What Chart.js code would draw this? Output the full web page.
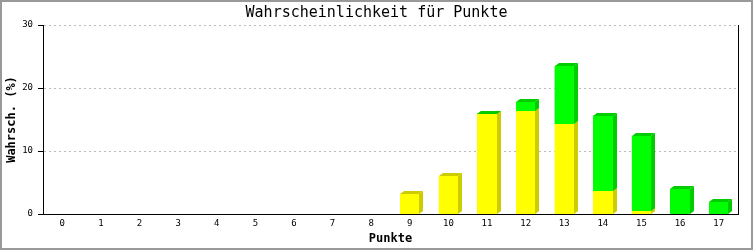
<!DOCTYPE html>
<html>
<head>
<meta charset="utf-8">
<script src="https://cdn.jsdelivr.net/npm/chart.js@4"></script>
<style>
  html, body { margin: 0; padding: 0; background: #fff; }
  canvas { display: block; }
</style>
</head>
<body>
<canvas id="chart" width="753" height="250"></canvas>
<script>
const categories = ['0', '1', '2', '3', '4', '5', '6', '7', '8', '9', '10', '11', '12', '13', '14', '15', '16', '17'];
const yellowValues = [0, 0, 0, 0, 0, 0, 0, 0, 0, 3.2, 6.0, 15.8, 16.3, 14.3, 3.7, 0.5, 0, 0];
const greenValues = [0, 0, 0, 0, 0, 0, 0, 0, 0, 0, 0, 0.15, 1.4, 9.2, 11.9, 11.9, 4.0, 1.9];
const yTicks = [0, 10, 20, 30];

const monoFont = '"DejaVu Sans Mono", "Liberation Mono", monospace';

// colours: front face and darker side/top face
const faceColors = ['#ffff00', '#00ff00'];
const sideColors = ['#cccc00', '#00cc00'];

// draws the bars again with a little 3D side and top
const bars3d = {
    id: 'bars3d',
    afterDatasetsDraw(chart) {
        const ctx = chart.ctx;
        const dx = 4, dy = 3;
        ctx.save();
        chart.data.datasets.forEach((ds, di) => {
            const meta = chart.getDatasetMeta(di);
            meta.data.forEach((bar) => {
                const p = bar.getProps(['x', 'y', 'base', 'width'], true);
                const top = Math.min(p.y, p.base);
                const bottom = Math.max(p.y, p.base);
                if (bottom - top < 0.5) return;
                const left = Math.round(p.x - p.width / 2);
                const right = Math.round(p.x + p.width / 2);
                const t = Math.round(top), b = Math.round(bottom);
                ctx.fillStyle = faceColors[di];
                ctx.fillRect(left, t, right - left, b - t);
                ctx.fillStyle = sideColors[di];
                ctx.beginPath();
                ctx.moveTo(right, b);
                ctx.lineTo(right, t);
                ctx.lineTo(right + dx, t - dy);
                ctx.lineTo(right + dx, b - dy);
                ctx.closePath();
                ctx.fill();
                ctx.beginPath();
                ctx.moveTo(left, t);
                ctx.lineTo(left + dx, t - dy);
                ctx.lineTo(right + dx, t - dy);
                ctx.lineTo(right, t);
                ctx.closePath();
                ctx.fill();
            });
        });
        ctx.restore();
    }
};

// right edge of the plot and the grey frame round the picture
const frame = {
    id: 'frame',
    afterDraw(chart) {
        const ctx = chart.ctx;
        const a = chart.chartArea;
        ctx.save();
        ctx.strokeStyle = '#000';
        ctx.lineWidth = 1;
        ctx.beginPath();
        ctx.moveTo(Math.round(a.right) + 0.5, a.top);
        ctx.lineTo(Math.round(a.right) + 0.5, a.bottom);
        ctx.stroke();
        ctx.strokeStyle = '#999';
        ctx.lineWidth = 2;
        ctx.strokeRect(1, 1, chart.width - 2, chart.height - 2);
        ctx.restore();
    }
};

const chartElement = document.getElementById('chart').getContext('2d');

const probabilityChart = new Chart(chartElement, {
    type: 'bar',
    data: {
        labels: categories,
        datasets: [{
            label: 'gelb',
            data: yellowValues,
            backgroundColor: faceColors[0],
            borderWidth: 0
        }, {
            label: 'grün',
            data: greenValues,
            backgroundColor: faceColors[1],
            borderWidth: 0
        }]
    },
    options: {
        responsive: false,
        animation: false,
        devicePixelRatio: 1,
        layout: { padding: 0 },
        datasets: {
            bar: { categoryPercentage: 1, barPercentage: 0.5 }
        },
        plugins: {
            legend: { display: false },
            tooltip: { enabled: false },
            title: {
                display: true,
                text: 'Wahrscheinlichkeit für Punkte',
                color: '#000',
                font: { family: monoFont, size: 15, weight: 'normal' },
                padding: { top: 4, bottom: 3 }
            }
        },
        scales: {
            x: {
                stacked: true,
                offset: true,
                grid: { display: false, drawTicks: false, tickLength: 0, offset: true },
                border: { display: true, color: '#000', width: 1 },
                ticks: {
                    color: '#000',
                    font: { family: monoFont, size: 9 },
                    padding: 4,
                    maxRotation: 0,
                    autoSkip: false
                },
                title: {
                    display: true,
                    text: 'Punkte',
                    color: '#000',
                    font: { family: monoFont, size: 12, weight: 'bold' },
                    padding: { top: 0, bottom: 4 }
                },
                afterFit(scale) { scale.height = 36; }
            },
            y: {
                stacked: true,
                min: 0,
                max: 30,
                afterBuildTicks(scale) {
                    scale.ticks = yTicks.map(v => ({ value: v }));
                },
                grid: {
                    color: (c) => c.tick && c.tick.value === 0 ? 'rgba(0,0,0,0)' : '#bbbbbb',
                    tickColor: '#000',
                    tickLength: 5,
                    lineWidth: 1
                },
                border: { display: true, color: '#000', width: 1, dash: [2, 3] },
                ticks: {
                    color: '#000',
                    font: { family: monoFont, size: 9 },
                    padding: 5
                },
                title: {
                    display: true,
                    text: 'Wahrsch. (%)',
                    color: '#000',
                    font: { family: monoFont, size: 12, weight: 'bold' },
                    padding: { top: 5, bottom: 0 }
                },
                afterFit(scale) { scale.width = 43; }
            },
            // empty axis on the right, only keeps room between plot and frame
            yRight: {
                position: 'right',
                display: true,
                grid: { display: false, drawTicks: false },
                border: { display: false },
                ticks: { display: false },
                afterFit(scale) { scale.width = 15; }
            }
        }
    },
    plugins: [bars3d, frame]
});
</script>
</body>
</html>
